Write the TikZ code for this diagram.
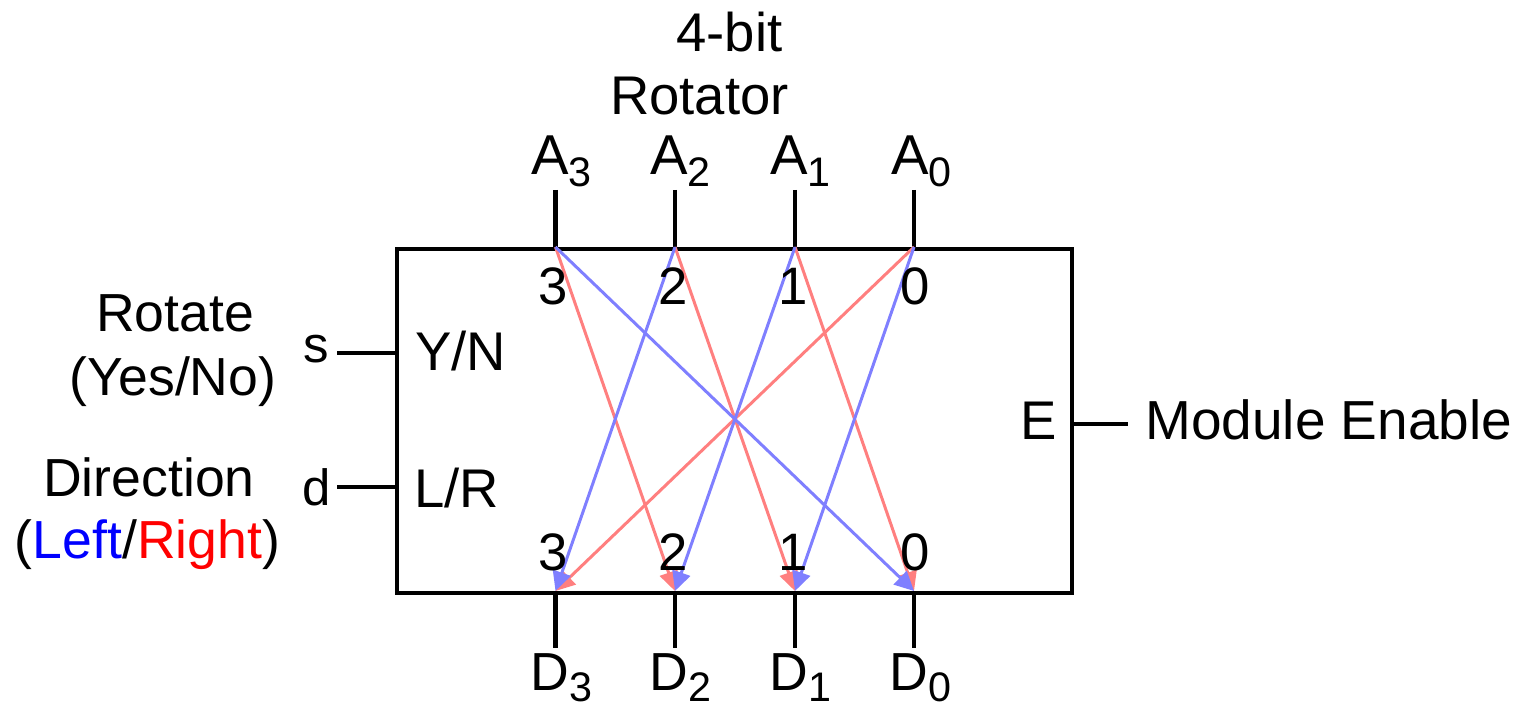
\documentclass[tikz,border=0pt]{standalone}
\usepackage{fontspec}
\setmainfont{Liberation Sans}
\usetikzlibrary{arrows.meta}
\newcommand\myfs[1]{\fontsize{#1}{#1}\selectfont}
\newcommand\pinsub[3]{#1\raisebox{#3}{\myfs{23.5pt}#2}}
\definecolor{lred}{HTML}{FF7F7F}
\definecolor{lblue}{HTML}{7F7FFF}
\definecolor{tblue}{HTML}{0000FF}
\definecolor{tred}{HTML}{FF0000}
\begin{document}
\begin{tikzpicture}[x=0.02cm,y=-0.02cm,
  wire/.style={line width=2.3pt},
  lbl/.style={inner sep=0pt, anchor=base west},
  clbl/.style={inner sep=0pt, anchor=base},
  rarrow/.style={lred, line width=1.7pt, -{Triangle[length=11pt,width=10.5pt]}},
  larrow/.style={lblue, line width=1.7pt, -{Triangle[length=11pt,width=10.5pt]}}]
\useasboundingbox (0,0) rectangle (1520,709);

% box
\node (box) [draw, wire, minimum width=13.5cm, minimum height=6.88cm, inner sep=0pt, anchor=north west] at (395,247) {};

% pin coordinates
\foreach \i/\x in {3/555.5,2/675,1/795,0/914}{
  \coordinate (t\i) at (\x,247);
  \coordinate (pt\i) at (\x,190);
  \coordinate (b\i) at (\x,591);
  \coordinate (pb\i) at (\x,648);
  \draw[wire] (pt\i) -- (t\i);
  \draw[wire] (b\i) -- (pb\i);
}

% side pins
\coordinate (sL) at (395,353); \coordinate (sE) at (337,353);
\coordinate (dL) at (395,487); \coordinate (dE) at (337,487);
\coordinate (eR) at (1070,424); \coordinate (eE) at (1128,424);
\draw[wire] (sE) -- (sL);
\draw[wire] (dE) -- (dL);
\draw[wire] (eR) -- (eE);

% arrows (right rotation, red)
\draw[rarrow] (t3) -- (b2);
\draw[rarrow] (t2) -- (b1);
\draw[rarrow] (t1) -- (b0);
\draw[rarrow] (t0) -- (b3);
% arrows (left rotation, blue)
\draw[larrow] (t3) -- (b0);
\draw[larrow] (t2) -- (b3);
\draw[larrow] (t1) -- (b2);
\draw[larrow] (t0) -- (b1);

% title
\node (tt1) [clbl, font=\myfs{31pt}] at (729.5,52) {4-bit};
\node (tt2) [clbl, font=\myfs{31pt}] at (699.5,115) {Rotator};

% A labels
\node (a3) [lbl, font=\myfs{32pt}] at (531,175) {\pinsub{A}{3}{-6.8pt}};
\node (a2) [lbl, font=\myfs{32pt}] at (650,175) {\pinsub{A}{2}{-6.8pt}};
\node (a1) [lbl, font=\myfs{32pt}] at (770,175) {\pinsub{A}{1}{-6.8pt}};
\node (a0) [lbl, font=\myfs{32pt}] at (891,175) {\pinsub{A}{0}{-6.8pt}};

% D labels
\node (d3) [lbl, font=\myfs{30.5pt}] at (530,690) {\pinsub{D}{3}{-6.8pt}};
\node (d2) [lbl, font=\myfs{30.5pt}] at (649,690) {\pinsub{D}{2}{-6.8pt}};
\node (d1) [lbl, font=\myfs{30.5pt}] at (769,690) {\pinsub{D}{1}{-6.8pt}};
\node (d0) [lbl, font=\myfs{30.5pt}] at (889,690) {\pinsub{D}{0}{-6.8pt}};

% internal numbers
\foreach \i/\x in {3/553,2/673,1/793,0/915}{
  \node (nt\i) [clbl, font=\myfs{30pt}] at (\x,305) {\i};
  \node (nb\i) [clbl, font=\myfs{30pt}] at (\x,570) {\i};
}

% side labels
\node (yn) [lbl, font=\myfs{31pt}] at (415,370) {Y/N};
\node (lr) [lbl, font=\myfs{31pt}] at (414,507) {L/R};
\node (e) [lbl, font=\myfs{31pt}] at (1020,439) {E};
\node (s) [lbl, font=\myfs{29pt}] at (303,362) {s};
\node (d) [lbl, font=\myfs{29pt}] at (302,505) {d};
\node (me) [lbl, font=\myfs{31.3pt}] at (1145,439) {Module Enable};

\node (rot) [clbl, font=\myfs{30.5pt}] at (175,332) {Rotate};
\node (yesno) [clbl, font=\myfs{30.5pt}] at (173,395) {(Yes/No)};
\node (dir) [clbl, font=\myfs{30.5pt}] at (149,496) {Direction};
\node (lrt) [clbl, font=\myfs{30.5pt}] at (147.5,558) {(\textcolor{tblue}{Left}/\textcolor{tred}{Right})};
\end{tikzpicture}
\end{document}
